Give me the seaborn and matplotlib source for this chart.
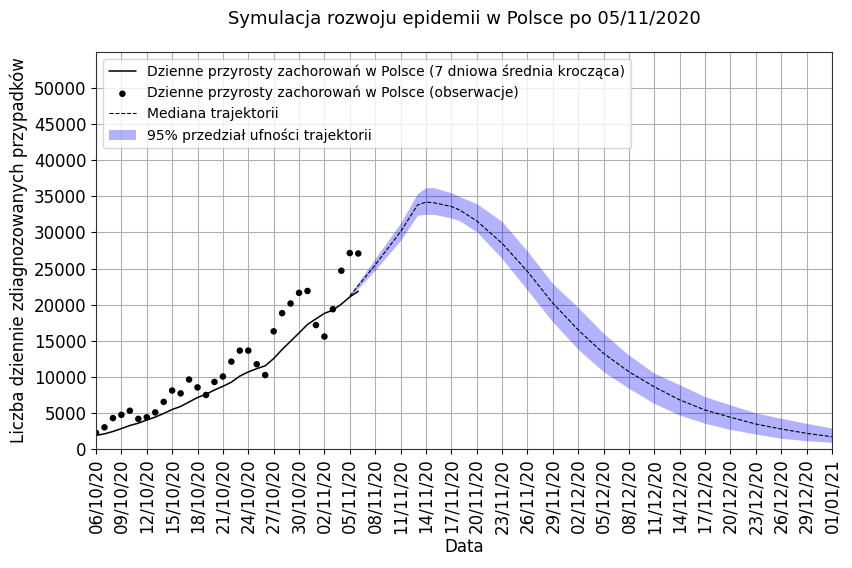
import matplotlib
matplotlib.use('Agg')
import matplotlib.pyplot as plt
import matplotlib.dates as mdates
import seaborn as sns
import pandas as pd

# observed daily cases (06/10/2020 - 06/11/2020)
obs_dates = pd.date_range('2020-10-06', '2020-11-06', freq='D')
obs_cases = [2236, 3003, 4280, 4739, 5300, 4178, 4394, 5068, 6526, 8099,
             7705, 9622, 8536, 7482, 9291, 10040, 12107, 13628, 13632, 11742,
             10241, 16300, 18820, 20156, 21629, 21897, 17171, 15578, 19364, 24692,
             27143, 27086]
# 7 day rolling mean
avg7_cases = [1889, 2096, 2427, 2827, 3257, 3577, 4019, 4423, 4926, 5472,
              5896, 6513, 7136, 7577, 8180, 8682, 9255, 10101, 10674, 11132,
              11526, 12527, 13781, 14931, 16074, 17255, 18031, 18793, 19231, 20070,
              21068, 21847]

# simulated trajectories
proj_dates = pd.to_datetime(['2020-11-05', '2020-11-08', '2020-11-11', '2020-11-13', '2020-11-14',
                             '2020-11-15', '2020-11-17', '2020-11-18', '2020-11-20', '2020-11-23',
                             '2020-11-26', '2020-11-29', '2020-12-02', '2020-12-05', '2020-12-08',
                             '2020-12-11', '2020-12-14', '2020-12-17', '2020-12-20', '2020-12-23',
                             '2020-12-26', '2020-12-29', '2021-01-01'])
proj_median = [21200, 25500, 30100, 33800, 34200, 34100, 33600, 33100, 31600, 28500,
               24600, 20200, 16500, 13250, 10700, 8600, 6800, 5400, 4400, 3460,
               2770, 2170, 1700]
proj_low = [21000, 24800, 28900, 32400, 32500, 32500, 32000, 31600, 30100, 26400,
            22000, 17600, 13800, 10700, 8400, 6300, 4700, 3560, 2700, 2080,
            1480, 1150, 930]
proj_high = [21400, 26400, 31300, 35400, 36200, 36200, 35500, 34950, 34000, 31500,
             27400, 22900, 19600, 16000, 13000, 10500, 8900, 7250, 6100, 5000,
             4250, 3560, 2900]

tick_dates = pd.date_range('2020-10-06', '2021-01-01', freq='3D')

sns.set_style('ticks')
plt.rcParams['font.family'] = ['DejaVu Sans']
plt.rcParams.update({'text.color': 'black', 'axes.labelcolor': 'black',
                     'xtick.color': 'black', 'ytick.color': 'black'})

fig, ax = plt.subplots(figsize=(8.52, 5.68), dpi=100)
fig.subplots_adjust(left=0.1127, right=0.9765, top=0.9085, bottom=0.2095)

sns.lineplot(x=obs_dates, y=avg7_cases, color='black', linewidth=1.1, ax=ax,
             label='Dzienne przyrosty zachorowań w Polsce (7 dniowa średnia krocząca)')
sns.scatterplot(x=obs_dates, y=obs_cases, color='black', s=22, edgecolor='none', ax=ax,
                label='Dzienne przyrosty zachorowań w Polsce (obserwacje)')
sns.lineplot(x=proj_dates, y=proj_median, color='black', linestyle='--', linewidth=0.8, ax=ax,
             label='Mediana trajektorii')
ax.fill_between(proj_dates, proj_low, proj_high, color='blue', alpha=0.3, linewidth=0,
                label='95% przedział ufności trajektorii')

ax.set_xlim(pd.Timestamp('2020-10-06'), pd.Timestamp('2021-01-01'))
ax.set_ylim(0, 55000)
ax.set_yticks(range(0, 55000, 5000))
ax.set_xticks(tick_dates)
ax.xaxis.set_major_formatter(mdates.DateFormatter('%d/%m/%y'))
ax.tick_params(axis='x', labelrotation=90, labelsize=12)
ax.tick_params(axis='y', labelsize=12)
ax.grid(True, color='#b0b0b0', linewidth=0.8)
for s in ax.spines.values():
    s.set_color('#333333')

ax.set_xlabel('Data', fontsize=12, labelpad=3)
ax.set_ylabel('Liczba dziennie zdiagnozowanych przypadków', fontsize=12)
ax.set_title('Symulacja rozwoju epidemii w Polsce po 05/11/2020', fontsize=13, pad=20)
ax.legend(loc='upper left', fontsize=10)

plt.savefig('out.png')
plt.close()
